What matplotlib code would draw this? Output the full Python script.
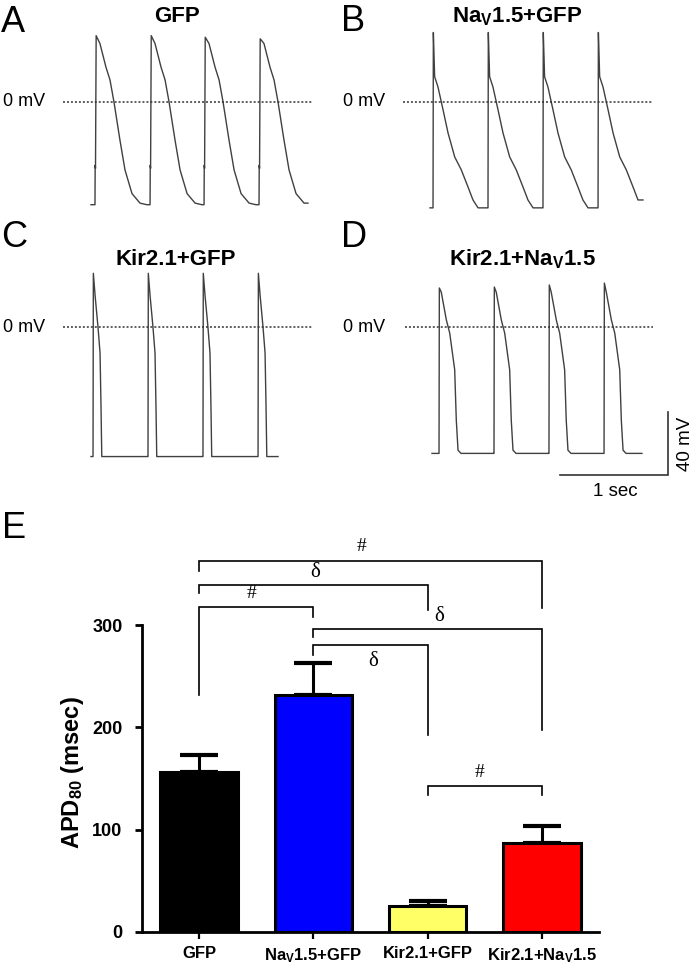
import matplotlib
matplotlib.use('Agg')
import matplotlib.pyplot as plt

plt.rcParams['font.family'] = ['Liberation Sans', 'DejaVu Sans']
plt.rcParams['mathtext.fontset'] = 'custom'
plt.rcParams['mathtext.rm'] = 'Liberation Sans'
plt.rcParams['mathtext.bf'] = 'Liberation Sans:bold'
plt.rcParams['mathtext.default'] = 'bf'

# ---------------- data: action potential traces (time in s, voltage in mV) ----
# beat template: (ms after upstroke, mV); peak point replaced by per-beat peak
tmpl_A_ms = [0, 2, 5, 11, 46, 102, 139, 176, 231, 278, 343, 417, 480]
tmpl_A_mv = [-65, -40, -42, 42, 37, 22, 14, 0, -24, -43, -58, -64, -65]
peak_idx_A = 3
onsets_A = [0.296, 0.806, 1.306, 1.815]
peaks_A = [42, 42, 41, 40]
span_A = [0.259, 2.268]

tmpl_B_ms = [0, 3, 15, 46, 93, 139, 201, 262, 324, 370, 417, 500]
tmpl_B_mv = [-67, 44, 16, 9.5, -5, -19.6, -34.8, -43, -53.8, -62, -67, -67]
peak_idx_B = 1
onsets_B = [0.278, 0.787, 1.296, 1.806]
peaks_B = [44, 44, 44, 44]
span_B = [0.250, 2.222]

tmpl_C_ms = [0, 3, 19, 46, 65, 74, 81, 500]
tmpl_C_mv = [-82, 34, 20, 0, -16.5, -50.6, -82, -82]
peak_idx_C = 1
onsets_C = [0.278, 0.787, 1.296, 1.806]
peaks_C = [34, 34, 34, 34]
span_C = [0.259, 1.991]

tmpl_D_ms = [0, 3, 21, 68, 99, 145, 160, 176, 204, 500]
tmpl_D_mv = [-80, 25, 22, 4.4, -3.8, -27, -59, -78, -80, -80]
peak_idx_D = 1
onsets_D = [0.315, 0.824, 1.333, 1.843]
peaks_D = [24.7, 25.3, 26.6, 27.8]
span_D = [0.250, 2.194]

panel_titles = ['GFP', 'Na$_{V}$1.5+GFP', 'Kir2.1+GFP', 'Kir2.1+Na$_{V}$1.5']
panel_letters = ['A', 'B', 'C', 'D']

# ---------------- data: APD80 bar chart ----------------
groups = ['GFP', 'Na$_{V}$1.5+GFP', 'Kir2.1+GFP', 'Kir2.1+Na$_{V}$1.5']
apd80 = [156.5, 232, 25, 87]
apd80_err = [16.5, 31, 5, 17]
bar_colors = ['#000000', '#0000ff', '#ffff66', '#ff0000']
yticks = [0, 100, 200, 300]

# significance brackets: (left group, right group, bar level, left leg end, right leg end, symbol, label x, label y)
brackets = [
    (0, 3, 362.5, 352.8, 316.6, '#', 1.42, 368),
    (0, 2, 339.0, 331.0, 314.7, 'δ', 1.02, 342),
    (0, 1, 317.6, 231.6, 307.8, '#', 0.46, 322),
    (1, 3, 296.0, 288.0, 197.0, 'δ', 2.10, 299),
    (1, 2, 280.5, 270.7, 192.5, 'δ', 1.52, 255),
    (2, 3, 142.7, 134.0, 134.0, '#', 2.45, 148),
]

# ---------------- figure ----------------
W, H = 695, 968
fig = plt.figure(figsize=(W / 100, H / 100), dpi=100)


def px_axes(l, t, r, b):
    return fig.add_axes([l / W, 1 - b / H, (r - l) / W, (b - t) / H])


PX_S = 108.0   # pixels per second
PX_MV = 1.58   # pixels per mV
TRACE_COLOR = '#404040'


def build_trace(t_ms, t_mv, pidx, onsets, peaks, span):
    ts, vs = [span[0]], [t_mv[0]]
    for on, pk in zip(onsets, peaks):
        for k, (dt, v) in enumerate(zip(t_ms, t_mv)):
            if k == pidx:
                v = pk
            t = on + dt / 1000.0
            if t <= span[1]:
                ts.append(t)
                vs.append(v)
    ts.append(span[1])
    vs.append(vs[-1])
    return ts, vs


panels = [
    (63, 102, tmpl_A_ms, tmpl_A_mv, peak_idx_A, onsets_A, peaks_A, span_A, 249),
    (403, 102, tmpl_B_ms, tmpl_B_mv, peak_idx_B, onsets_B, peaks_B, span_B, 249),
    (63, 327, tmpl_C_ms, tmpl_C_mv, peak_idx_C, onsets_C, peaks_C, span_C, 249),
    (405, 327, tmpl_D_ms, tmpl_D_mv, peak_idx_D, onsets_D, peaks_D, span_D, 248),
]
title_pos = [(177, 22), (517, 22), (176, 265), (522, 265)]
letter_pos = [(1, 32), (341, 31), (1, 247), (341, 247)]
zero_lab_x = [3, 343, 3, 343]

trace_axes = []
for i, (x0, y0, tms, tmv, pidx, ons, pks, span, dash_len) in enumerate(panels):
    ax = px_axes(x0, y0 - 85, x0 + 290, y0 + 145)
    ax.set_xlim(0, 290 / PX_S)
    ax.set_ylim(-145 / PX_MV, 85 / PX_MV)
    ax.axis('off')
    ts, vs = build_trace(tms, tmv, pidx, ons, pks, span)
    ax.plot(ts, vs, color=TRACE_COLOR, lw=1.0, solid_joinstyle='round')
    ax.plot([0, dash_len / PX_S], [0, 0], color='#333333', lw=1.1,
            linestyle=(0, (1.3, 1.3)))
    trace_axes.append(ax)
    fig.text(title_pos[i][0] / W, 1 - title_pos[i][1] / H, panel_titles[i],
             ha='center', va='baseline', fontsize=16, fontweight='bold')
    fig.text(letter_pos[i][0] / W, 1 - letter_pos[i][1] / H, panel_letters[i],
             ha='left', va='baseline', fontsize=26)
    fig.text(zero_lab_x[i] / W, 1 - y0 / H, '0 mV', ha='left', va='center',
             fontsize=13)

# scale bar (in panel D data units)
axD = trace_axes[3]
corner_t = (668 - 405) / PX_S
corner_v = (327 - 475) / PX_MV
axD.plot([corner_t - 1.0, corner_t, corner_t], [corner_v, corner_v, corner_v + 40],
         color='#333333', lw=1.2, clip_on=False, solid_joinstyle='miter')
fig.text(686 / W, 1 - 444 / H, '40 mV', rotation=90, ha='center', va='center',
         fontsize=13.5)
fig.text(615 / W, 1 - 492 / H, '1 sec', ha='center', va='center', fontsize=13.5)

fig.text(2 / W, 1 - 538 / H, 'E', ha='left', va='baseline', fontsize=26)

# ---------------- bar chart ----------------
axb = px_axes(142, 625, 599, 932)
xs = list(range(len(groups)))
axb.errorbar(xs, apd80, yerr=[[0] * len(xs), apd80_err], fmt='none', ecolor='black',
             elinewidth=2.2, capsize=14, capthick=3, zorder=2)
axb.bar(xs, apd80, width=0.68, color=bar_colors, edgecolor='black', linewidth=2.2,
        zorder=3)
axb.set_xlim(-0.5, 3.5)
axb.set_ylim(0, 300)
for s in ['top', 'right']:
    axb.spines[s].set_visible(False)
axb.spines['left'].set_linewidth(2)
axb.spines['bottom'].set_linewidth(2)
axb.set_yticks(yticks)
axb.set_yticklabels([str(v) for v in yticks], fontweight='bold', fontsize=13)
axb.set_xticks(xs)
axb.set_xticklabels(groups, fontweight='bold', fontsize=12)
axb.tick_params(axis='y', length=5, width=2, pad=9)
axb.tick_params(axis='x', length=5, width=1.6, pad=5)
fig.text(72 / W, 1 - 773 / H, 'APD$_{80}$ (msec)', rotation=90, ha='center',
         va='center', fontsize=17, fontweight='bold')

for (i, j, ybar, yl, yr, sym, lx, ly) in brackets:
    axb.plot([i, i, j, j], [yl, ybar, ybar, yr], color='black', lw=1.2,
             clip_on=False, solid_joinstyle='miter')
    axb.text(lx, ly, sym, ha='center', va='bottom',
             fontsize=15 if sym == 'δ' else 14,
             family=['Liberation Serif', 'DejaVu Serif'], clip_on=False)

fig.savefig('out.png', dpi=100)
